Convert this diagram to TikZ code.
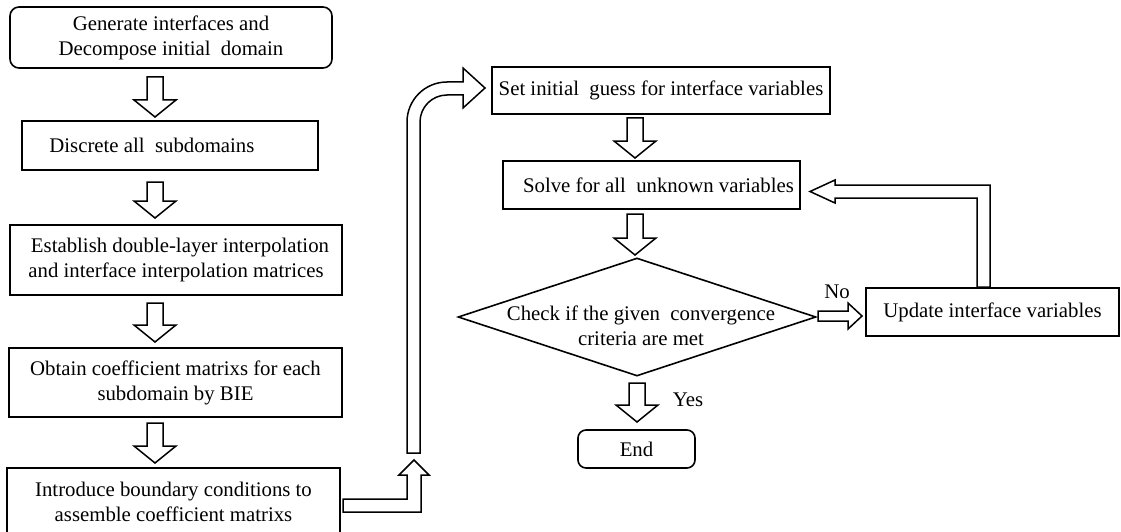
\documentclass[tikz,border=0pt]{standalone}
\usepackage{fontspec}
\setmainfont{Liberation Serif}
\usetikzlibrary{shapes.geometric}
\tikzset{
  box/.style={draw, line width=1.6pt, inner sep=0pt, align=center, font=\fontsize{20.8}{25}\selectfont},
  rbox/.style={box, rounded corners=9pt},
  txt/.style={inner sep=0pt, align=center, font=\fontsize{20.8}{25}\selectfont},
  barrow/.style={draw, line width=1.5pt, fill=white, line join=miter},
}
\newcommand\blockdown[3]{%
  \draw[barrow] (#1-8,#2) -- (#1+8,#2) -- (#1+8,#3-17) -- (#1+21,#3-17) -- (#1,#3) -- (#1-21,#3-17) -- (#1-8,#3-17) -- cycle;}
\begin{document}
\begin{tikzpicture}[x=1pt,y=-1pt]
\useasboundingbox (0,0) rectangle (1121,532);
% left column
\node[rbox, minimum width=322, minimum height=61] (b1) at (171,37.5) {Generate interfaces and\\Decompose initial\ \ domain};
\node[box, minimum width=296, minimum height=49] (b2) at (170,145.5) {};
\node[txt, anchor=west] (t2) at ([xshift=28pt]b2.west) {Discrete all\ \ subdomains};
\node[box, minimum width=332, minimum height=70] (b3) at (176,260) {\hspace*{8pt}Establish double-layer interpolation\\ and interface interpolation matrices};
\node[box, minimum width=333, minimum height=69] (b4) at (175.5,382.5) {Obtain coefficient matrixs for each\\subdomain by BIE};
\node[box, minimum width=333, minimum height=67] (b5) at (173.5,501.5) {Introduce boundary conditions to\\assemble coefficient matrixs};
% right column
\node[box, minimum width=338, minimum height=47] (s1) at (661,90.5) {Set initial\ \ guess for interface variables};
\node[box, minimum width=297, minimum height=48] (s2) at (651.5,185) {\hspace*{14pt}Solve for all\ \ unknown variables};
\node[draw, diamond, line width=1.6pt, inner sep=0pt, minimum width=358, minimum height=118] (d) at (637,317) {};
\node[txt] (dt) at (641,326) {Check if the given\ \ convergence\\criteria are met};
\node[box, minimum width=253, minimum height=48] (u) at (992.5,312) {Update interface variables};
\node[rbox, rounded corners=8pt, minimum width=117, minimum height=38] (e) at (636.5,449) {End};
\node[txt] (yes) at (688,400) {Yes};
\node[txt] (no) at (837,292) {No};
% block arrows, left column
\blockdown{155}{77}{117}
\blockdown{155}{182}{218}
\blockdown{155}{303}{342}
\blockdown{155}{423}{463}
% right column
\blockdown{635}{118}{158}
\blockdown{635}{214}{255}
\blockdown{637}{383}{422}
% No arrow
\draw[barrow] (818,311) -- (848,311) -- (848,303) -- (862,316) -- (848,329) -- (848,321) -- (818,321) -- cycle;
% feedback arrow
\draw[barrow] (977,287) -- (977,198) -- (835,198) -- (835,203) -- (810,191.5) -- (835,180) -- (835,185) -- (990,185) -- (990,287) -- cycle;
% L-shaped arrow from b5
\draw[barrow] (343,499) -- (407,499) -- (407,475) -- (399,475) -- (414,460) -- (429,475) -- (421,475) -- (421,512) -- (343,512) -- cycle;
% bent arrow into s1
\draw[barrow] (407,453) -- (407,122) arc (180:90:40pt) -- (463,82) -- (463,68) -- (485,88) -- (463,108) -- (463,95) -- (447,95) arc (90:180:27pt) -- (420,453) -- cycle;
\end{tikzpicture}
\end{document}
